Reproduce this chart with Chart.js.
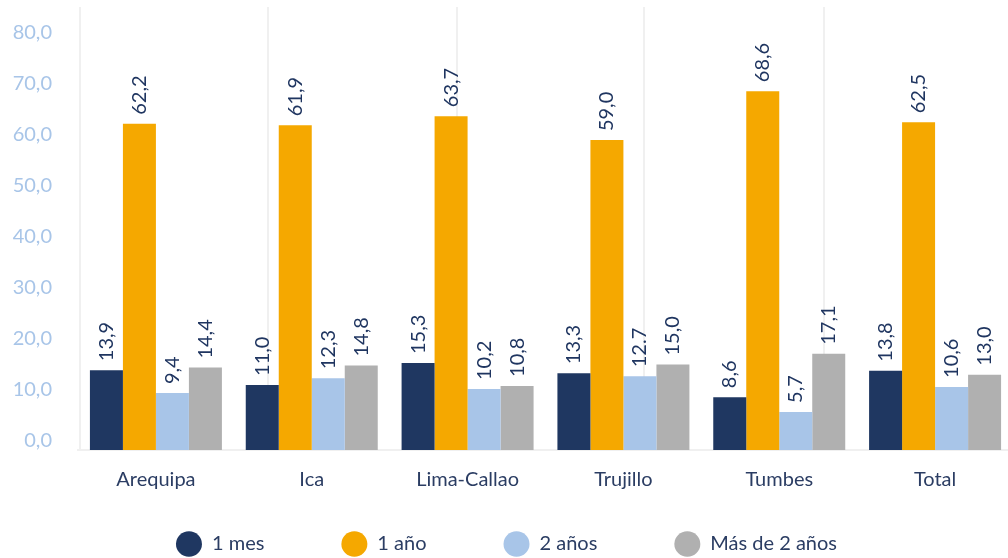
<!DOCTYPE html>
<html lang="es">
<head>
<meta charset="utf-8">
<title>Duración</title>
<script src="https://cdn.jsdelivr.net/npm/chart.js@4.4.1/dist/chart.umd.min.js"></script>
<style>
  html, body { margin: 0; padding: 0; background: #ffffff; overflow: hidden; }
  #grafico { display: block; }
</style>
</head>
<body>
<canvas id="grafico" width="1014" height="558"></canvas>
<script>
// --- datos ---
const categorias = ['Arequipa', 'Ica', 'Lima-Callao', 'Trujillo', 'Tumbes', 'Total'];
const series = ['1 mes', '1 año', '2 años', 'Más de 2 años'];
const unMes = [13.9, 11.0, 15.3, 13.3, 8.6, 13.8];
const unAno = [62.2, 61.9, 63.7, 59.0, 68.6, 62.5];
const dosAnos = [9.4, 12.3, 10.2, 12.7, 5.7, 10.6];
const masDeDosAnos = [14.4, 14.8, 10.8, 15.0, 17.1, 13.0];
const ticksY = [0, 10, 20, 30, 40, 50, 60, 70, 80];
// el original escribe "12.7" con punto en Trujillo / 2 años
const textosEspeciales = { '2|3': '12.7' };

const colores = ['#1f3761', '#f5a800', '#a8c5e8', '#b0b0b0'];
const lineasGuia = [-0.49, 0.72, 1.93, 3.13, 4.29];
const fuente = 'Lato';

function formatear(v) {
    return v.toFixed(1).replace('.', ',');
}

// etiquetas verticales encima de cada barra
const etiquetasBarras = {
    id: 'etiquetasBarras',
    afterDatasetsDraw(chart) {
        const ctx = chart.ctx;
        ctx.save();
        ctx.font = '20px ' + fuente;
        ctx.fillStyle = '#1f3560';
        ctx.textAlign = 'left';
        ctx.textBaseline = 'middle';
        chart.data.datasets.forEach((ds, i) => {
            chart.getDatasetMeta(i).data.forEach((barra, j) => {
                const texto = textosEspeciales[i + '|' + j] || formatear(ds.data[j]);
                ctx.save();
                ctx.translate(barra.x, barra.y - 9);
                ctx.rotate(-Math.PI / 2);
                ctx.fillText(texto, 0, 0);
                ctx.restore();
            });
        });
        ctx.restore();
    }
};

const valores = [unMes, unAno, dosAnos, masDeDosAnos];

new Chart(document.getElementById('grafico'), {
    type: 'bar',
    data: {
        labels: categorias,
        datasets: series.map((nombre, i) => ({
            label: nombre,
            data: valores[i],
            backgroundColor: colores[i],
            borderWidth: 0,
            base: -1.76,
            categoryPercentage: 0.847,
            barPercentage: 1
        }))
    },
    options: {
        responsive: false,
        animation: false,
        devicePixelRatio: 1,
        layout: { padding: { top: 7, right: 1, bottom: -6, left: 0 } },
        plugins: {
            tooltip: { enabled: false },
            legend: {
                position: 'bottom',
                labels: {
                    usePointStyle: true,
                    pointStyle: 'circle',
                    boxHeight: 18,
                    pointStyleWidth: 26,
                    padding: 77,
                    color: '#2b3d63',
                    font: { family: fuente, size: 20 }
                }
            }
        },
        scales: {
            x: {
                type: 'category',
                grid: { display: false, drawTicks: false },
                border: { display: true, color: '#f0f0f0', width: 2 },
                // mirror evita que las etiquetas se recorten a la altura del eje
                ticks: { mirror: true, color: '#2b3d63', padding: -42, font: { family: fuente, size: 20 } },
                afterFit: s => { s.height = 7; s.paddingLeft = 0; s.paddingRight = 0; }
            },
            x2: {
                type: 'linear',
                position: 'top',
                offset: false,
                min: -0.5,
                max: 5.5,
                grid: { color: '#f0f0f0', lineWidth: 2, drawTicks: false, offset: false },
                border: { display: false },
                ticks: { display: false },
                afterBuildTicks: s => { s.ticks = lineasGuia.map(v => ({ value: v })); },
                afterFit: s => { s.height = 0; s.paddingLeft = 0; s.paddingRight = 0; }
            },
            y: {
                min: -1.76,
                max: 85.1,
                grid: { display: false, drawTicks: false },
                border: { display: false },
                ticks: {
                    color: '#a8c5e8',
                    padding: 26,
                    font: { family: fuente, size: 20 },
                    callback: v => formatear(v)
                },
                afterBuildTicks: s => { s.ticks = ticksY.map(v => ({ value: v })); },
                afterFit: s => { s.width = 78; s.paddingTop = 0; s.paddingBottom = 0; }
            }
        }
    },
    plugins: [etiquetasBarras]
});
</script>
</body>
</html>
